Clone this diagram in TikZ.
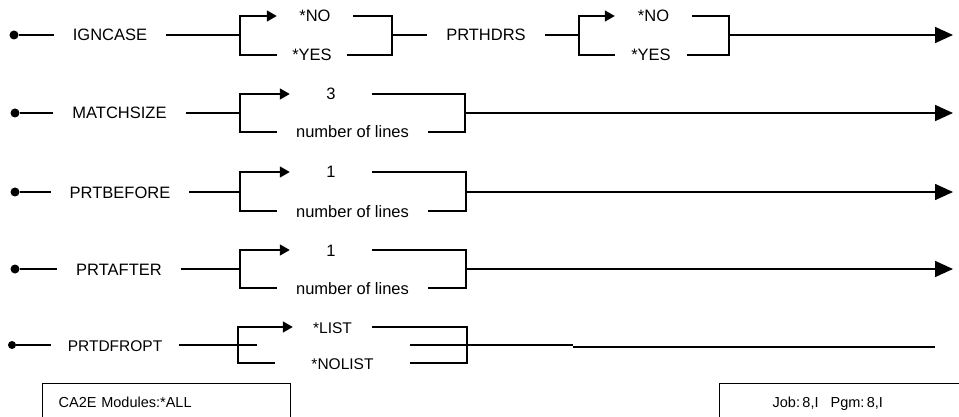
\documentclass[tikz,border=0pt]{standalone}
\usepackage{fontspec}
\setmainfont{Liberation Sans}
\usetikzlibrary{arrows.meta}

\begin{document}
\begin{tikzpicture}[x=1pt,y=-1pt,
      every node/.style={font=\fontsize{16.5}{19}\selectfont,inner sep=0pt,text height=12pt,text depth=0pt},
      keyword/.style={inner xsep=19pt},
      choice/.style={},
      startdot/.style={circle,fill=black,minimum size=9pt,text height=,text depth=,inner sep=0pt},
      rail/.style={line width=1.6pt},
      toopt/.style={rail,-{Triangle[length=10pt,width=11pt]}},
      toend/.style={rail,-{Triangle[length=18pt,width=16pt]}},
      infobox/.style={draw,line width=1.3pt,anchor=north west,align=left,
        font=\fontsize{14.5}{17}\selectfont,inner xsep=0pt,inner ysep=13pt,text height=10.5pt,text depth=30pt}]
  \useasboundingbox (0,0) rectangle (959,417);

  % IGNCASE / PRTHDRS
  \node[startdot] (d1) at (14,35) {};
  \node[keyword] (ign) at (110,35) {IGNCASE};
  \coordinate (j1) at (240,35);
  \node[choice, minimum width=76pt] (no1) at (315,16) {*NO};
  \node[choice, minimum width=70pt] (yes1) at (312,55) {*YES};
  \coordinate (k1) at (392,35);
  \node[keyword] (hdr) at (486,35) {PRTHDRS};
  \coordinate (j2) at (579,35);
  \node[choice, minimum width=77pt] (no2) at (653.5,16) {*NO};
  \node[choice, minimum width=72pt] (yes2) at (651,55) {*YES};
  \coordinate (k2) at (729,35);
  \coordinate (e1) at (953,35);
  \draw[rail] (d1) -- (ign);
  \draw[rail] (ign) -- (j1);
  \draw[toopt] (j1) |- (no1.west);
  \draw[rail] (j1) |- (yes1.west);
  \draw[rail] (no1.east) -| (k1) |- (yes1.east);
  \draw[rail] (k1) -- (hdr);
  \draw[rail] (hdr) -- (j2);
  \draw[toopt] (j2) |- (no2.west);
  \draw[rail] (j2) |- (yes2.west);
  \draw[rail] (no2.east) -| (k2) |- (yes2.east);
  \draw[toend] (k2) -- (e1);

  % MATCHSIZE
  \node[startdot] (d2) at (15,113) {};
  \node[keyword] (msz) at (119.5,113) {MATCHSIZE};
  \coordinate (j3) at (240,113);
  \node[choice, minimum width=82pt] (dflt3) at (331,94) {3};
  \node[choice, minimum width=151pt] (num3) at (352.5,132) {number of lines};
  \coordinate (k3) at (465,113);
  \coordinate (e2) at (953,113);
  \draw[rail] (d2) -- (msz);
  \draw[rail] (msz) -- (j3);
  \draw[toopt] (j3) |- (dflt3.west);
  \draw[rail] (j3) |- (num3.west);
  \draw[rail] (dflt3.east) -| (k3) |- (num3.east);
  \draw[toend] (k3) -- (e2);

  % PRTBEFORE
  \node[startdot] (d3) at (15,192) {};
  \node[keyword] (bef) at (120,192) {PRTBEFORE};
  \coordinate (j4) at (240,192);
  \node[choice, minimum width=82pt] (dflt4) at (331,172) {1};
  \node[choice, minimum width=151pt] (num4) at (352.5,211) {number of lines};
  \coordinate (k4) at (466,192);
  \coordinate (e3) at (953,192);
  \draw[rail] (d3) -- (bef);
  \draw[rail] (bef) -- (j4);
  \draw[toopt] (j4) |- (dflt4.west);
  \draw[rail] (j4) |- (num4.west);
  \draw[rail] (dflt4.east) -| (k4) |- (num4.east);
  \draw[toend] (k4) -- (e3);

  % PRTAFTER
  \node[startdot] (d4) at (15,269) {};
  \node[keyword] (aft) at (119,269) {PRTAFTER};
  \coordinate (j5) at (240,269);
  \node[choice, minimum width=82pt] (dflt5) at (331,250) {1};
  \node[choice, minimum width=151pt] (num5) at (352.5,288) {number of lines};
  \coordinate (k5) at (466,269);
  \coordinate (e4) at (953,269);
  \draw[rail] (d4) -- (aft);
  \draw[rail] (aft) -- (j5);
  \draw[toopt] (j5) |- (dflt5.west);
  \draw[rail] (j5) |- (num5.west);
  \draw[rail] (dflt5.east) -| (k5) |- (num5.east);
  \draw[toend] (k5) -- (e4);

  % PRTDFROPT
  \node[startdot, minimum size=8pt] (d5) at (12,345) {};
  \node[keyword, font=\fontsize{15.5}{18}\selectfont, inner xsep=17pt] (dfr) at (115,345) {PRTDFROPT};
  \coordinate (t6) at (210,345);
  \coordinate (j6) at (238,345);
  \coordinate (s6) at (257,345);
  \node[choice, font=\fontsize{15.5}{18}\selectfont, minimum width=79pt] (lst) at (332.5,327) {*LIST};
  \node[choice, font=\fontsize{15.5}{18}\selectfont, minimum width=135pt] (nol) at (342.5,363) {*NOLIST};
  \coordinate (m6) at (410,345);
  \coordinate (k6) at (467,345);
  \coordinate (f6) at (573,345);
  \coordinate (g6) at (573,347);
  \coordinate (e5) at (935,347);
  \draw[rail] (d5) -- (dfr);
  \draw[rail] (dfr) -- (j6);
  \draw[line width=2.6pt] (t6) -- (j6);
  \draw[toopt] (j6) |- (lst.west);
  \draw[rail] (j6) -- (s6);
  \draw[rail] (j6) |- (nol.west);
  \draw[rail] (lst.east) -| (k6) |- (nol.east);
  \draw[rail] (m6) -- (k6) -- (f6);
  \draw[rail] (g6) -- (e5);

  % footer boxes
  \node[infobox, text width=216pt, inner xsep=16pt] (mods) at (42,383) {CA2E Modules:*ALL};
  \node[infobox, text width=200pt, inner xsep=53pt] (jobs) at (719,383) {Job:\,8,I\hspace{12pt}Pgm:\,8,I};
\end{tikzpicture}
\end{document}
